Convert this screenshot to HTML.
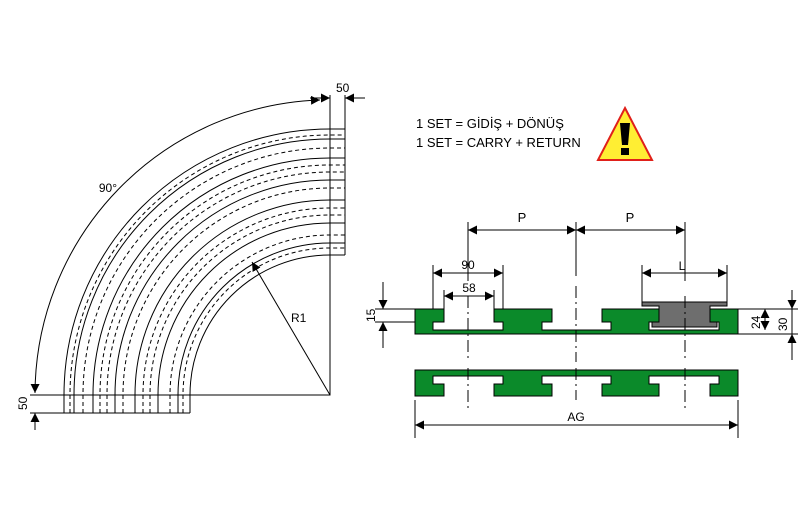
<!DOCTYPE html>
<html><head><meta charset="utf-8"><style>html,body{margin:0;padding:0;background:#fff}svg{display:block}</style></head><body>
<svg width="800" height="509" viewBox="0 0 800 509" xmlns="http://www.w3.org/2000/svg" font-family="Liberation Sans, sans-serif">
<defs>
<marker id="a" viewBox="0 0 10 10" refX="10" refY="5" markerWidth="9" markerHeight="9" markerUnits="userSpaceOnUse" orient="auto-start-reverse"><path d="M0,0L10,5L0,10z" fill="#000"/></marker>
</defs>
<g fill="none" stroke="#000" stroke-width="1">
<g>
<path d="M64,413V395A266,266 0 0 1 330,129H345"/>
<path d="M74,413V395A256,256 0 0 1 330,139H345"/>
<path d="M93,413V395A237,237 0 0 1 330,158H345"/>
<path d="M115,413V395A215,215 0 0 1 330,180H345"/>
<path d="M135,413V395A195,195 0 0 1 330,200H345"/>
<path d="M158,413V395A172,172 0 0 1 330,223H345"/>
<path d="M178,413V395A152,152 0 0 1 330,243H345"/>
<path d="M190,413V395A140,140 0 0 1 330,255H345"/>
</g>
<g stroke-dasharray="4,3">
<path d="M70,413V395A260,260 0 0 1 330,135H345"/>
<path d="M83,413V395A247,247 0 0 1 330,148H345"/>
<path d="M100,413V395A230,230 0 0 1 330,165H345"/>
<path d="M107,413V395A223,223 0 0 1 330,172H345"/>
<path d="M123,413V395A207,207 0 0 1 330,188H345"/>
<path d="M143,413V395A187,187 0 0 1 330,208H345"/>
<path d="M150,413V395A180,180 0 0 1 330,215H345"/>
<path d="M170,413V395A160,160 0 0 1 330,235H345"/>
<path d="M183,413V395A147,147 0 0 1 330,248H345"/>
</g>
<path d="M64,413H190"/>
<path d="M345,129V255"/>
<path d="M30,395H330V95"/>
<path d="M30,413H64"/>
<path d="M345,95V129"/>
<path d="M35,393A295,295 0 0 1 320,100" marker-start="url(#a)" marker-end="url(#a)"/>
<path d="M310,98H330" marker-end="url(#a)"/>
<path d="M365,98H345" marker-end="url(#a)"/>
<path d="M35,430V413" marker-end="url(#a)"/>
<path d="M330,395L252,262" marker-end="url(#a)"/>
<path d="M468,222V281M576,222V276M685,222V281"/>
<path d="M468,230H576" marker-start="url(#a)" marker-end="url(#a)"/>
<path d="M576,230H685" marker-start="url(#a)" marker-end="url(#a)"/>
<path d="M433,265V309M503,265V309M444,290V322M494,290V322M642,265V302M727,265V302"/>
<path d="M433,273H503" marker-start="url(#a)" marker-end="url(#a)"/>
<path d="M444,296H494" marker-start="url(#a)" marker-end="url(#a)"/>
<path d="M642,273H727" marker-start="url(#a)" marker-end="url(#a)"/>
<path d="M415,400V438M738,400V438"/>
<path d="M415,425H738" marker-start="url(#a)" marker-end="url(#a)"/>
<path d="M375,309H415M375,322H415M383,282V309M383,348V322"/>
<path d="M383,292V309" marker-end="url(#a)"/>
<path d="M383,340V322" marker-end="url(#a)"/>
<path d="M738,309H798M738,334H798M792,290V360"/>
<path d="M765,309V330" marker-start="url(#a)" marker-end="url(#a)"/>
<path d="M792,292V309" marker-end="url(#a)"/>
<path d="M792,350V334" marker-end="url(#a)"/>
</g>
<path d="M415,309H444V322H433V330H503V322H494V309H552V322H542V330H611V322H602V309H659V322H649V330H719V322H710V309H738V334H415Z" fill="#0b8a2a" stroke="#000" stroke-width="1"/>
<path d="M415,370H738V396H710V384H719V376H649V384H659V396H602V384H611V376H542V384H552V396H494V384H503V376H433V384H444V396H415Z" fill="#0b8a2a" stroke="#000" stroke-width="1"/>
<path d="M642,302H727V306H710V322H717V327H652V322H659V306H642Z" fill="#6e6e6e" stroke="#000" stroke-width="1"/>
<g stroke="#000" stroke-dasharray="12,4,2,4" fill="none">
<path d="M468,296V362M576,286V362M685,296V362M468,368V410M576,368V400M685,368V410"/>
</g>
<path d="M625,108L652,160H598Z" fill="#ffee33" stroke="#e0201a" stroke-width="2"/>
<path d="M620,123H630L628,145H622Z" fill="#000"/>
<rect x="621" y="148" width="8" height="7" fill="#000"/>
<g font-size="13" fill="#000">
<text x="416" y="128">1 SET = GİDİŞ + DÖNÜŞ</text>
<text x="416" y="147">1 SET = CARRY + RETURN</text>
<text x="522" y="222" text-anchor="middle">P</text>
<text x="630" y="222" text-anchor="middle">P</text>
<text x="468" y="269" text-anchor="middle" font-size="12">90</text>
<text x="469" y="292" text-anchor="middle" font-size="12">58</text>
<text x="682" y="270" text-anchor="middle" font-size="12">L</text>
<text x="576" y="421" text-anchor="middle" font-size="12">AG</text>
<text x="117" y="192" font-size="12" text-anchor="end">90°</text>
<text x="291" y="322" font-size="12">R1</text>
<text x="336" y="92" font-size="12">50</text>
<text transform="translate(27,410) rotate(-90)" font-size="12">50</text>
<text transform="translate(375,322) rotate(-90)" font-size="12">15</text>
<text transform="translate(760,329) rotate(-90)" font-size="12">24</text>
<text transform="translate(787,331) rotate(-90)" font-size="12">30</text>
</g>
</svg>
</body></html>
